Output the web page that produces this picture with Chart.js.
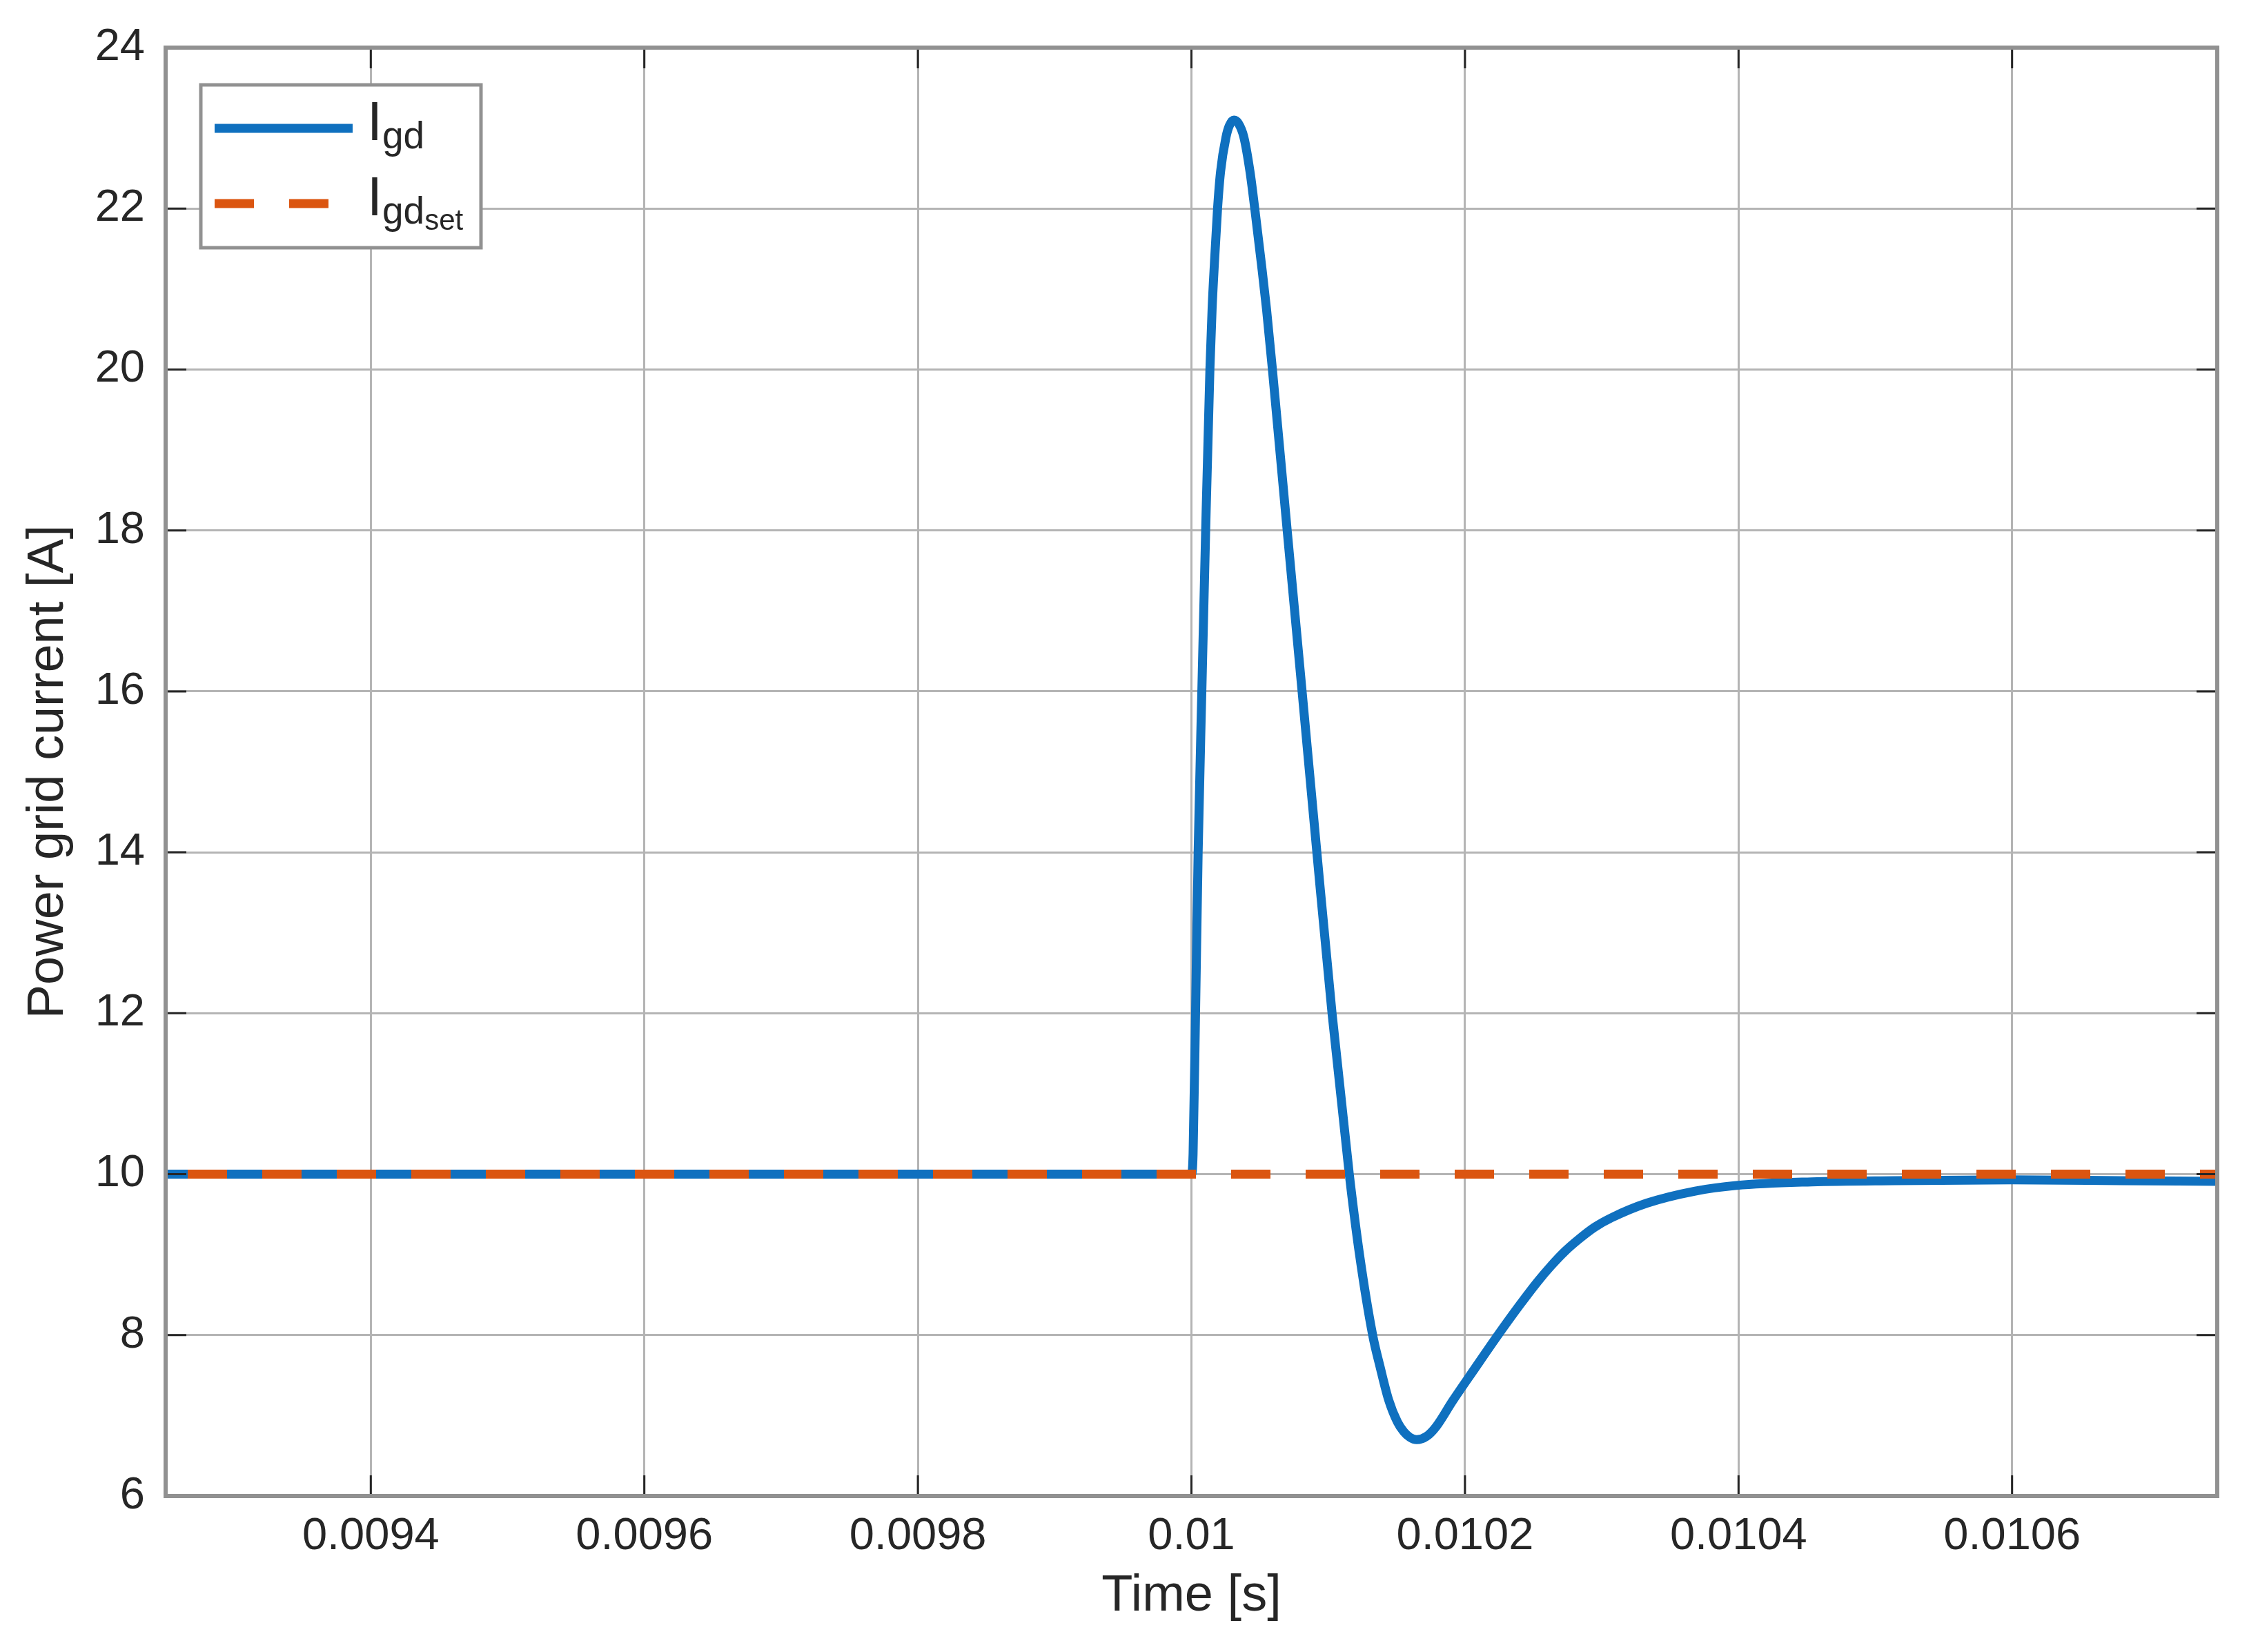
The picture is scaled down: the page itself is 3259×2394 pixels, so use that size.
<!DOCTYPE html>
<html lang="en">
<head>
  <meta charset="UTF-8" />
  <title>Power grid current</title>
  <script src="https://cdn.jsdelivr.net/npm/chart.js"></script>
  <style>
    html, body {
      margin: 0;
      padding: 0;
      background: #ffffff;
    }
    canvas {
      display: block;
    }
  </style>
</head>
<body>
  <canvas id="gridChart" width="3259" height="2394"></canvas>

  <script>
    // Igd (time in s, current in A)
    const timeIgd = [
      0.00925, 0.0100000, 0.0100012, 0.0100030, 0.0100049, 0.0100076, 0.0100104,
      0.0100135, 0.0100151, 0.0100168, 0.0100191, 0.0100213, 0.0100253, 0.0100277,
      0.0100311, 0.0100343, 0.0100383, 0.0100428, 0.0100463, 0.0100511, 0.0100549,
      0.0100592, 0.0100700, 0.0100809, 0.0100917, 0.0101028, 0.0101154, 0.0101229,
      0.0101325, 0.0101380, 0.0101441, 0.0101506, 0.0101552, 0.0101597, 0.0101647,
      0.0101718, 0.0101788, 0.0101909, 0.0102070, 0.0102241, 0.0102403, 0.0102529,
      0.0102629, 0.0102730, 0.0102831, 0.0102947, 0.0103073, 0.0103330, 0.0103683,
      0.0103985, 0.0104534, 0.0105139, 0.0106000, 0.0106800, 0.0107500
    ];
    const igd = [
      10, 10, 10.25, 12, 14, 16, 18,
      20, 20.75, 21.32, 22, 22.46, 22.89, 23.03,
      23.10, 23.06, 22.89, 22.46, 22, 21.32, 20.75,
      20, 18, 16, 14, 12, 10, 9,
      8, 7.6, 7.2, 6.92, 6.80, 6.73, 6.70,
      6.74, 6.86, 7.18, 7.58, 8.00, 8.38, 8.66,
      8.86, 9.04, 9.19, 9.34, 9.46, 9.64, 9.79,
      9.86, 9.905, 9.92, 9.93, 9.92, 9.91
    ];

    // Igd setpoint
    const timeSet = [0.00925, 0.01075];
    const igdSet = [10, 10];

    const xTicks = [0.0094, 0.0096, 0.0098, 0.01, 0.0102, 0.0104, 0.0106];
    const xTickLabels = ['0.0094', '0.0096', '0.0098', '0.01', '0.0102', '0.0104', '0.0106'];
    const yTicks = [6, 8, 10, 12, 14, 16, 18, 20, 22, 24];

    const legendMain = ['I', 'I'];
    const legendSub = ['gd', 'gd'];
    const legendSubSub = ['', 'set'];

    const FONT = "'Liberation Sans', Arial, sans-serif";
    const TEXT = '#262626';

    // axes box, inward ticks and the legend with subscripts
    const matlabFrame = {
      id: 'matlabFrame',
      afterDraw(chart) {
        const { ctx, chartArea: a, scales: { x, y } } = chart;
        ctx.save();

        ctx.strokeStyle = TEXT;
        ctx.lineWidth = 3;
        ctx.beginPath();
        x.ticks.forEach(t => {
          const px = x.getPixelForValue(t.value);
          ctx.moveTo(px, a.bottom); ctx.lineTo(px, a.bottom - 30);
          ctx.moveTo(px, a.top); ctx.lineTo(px, a.top + 30);
        });
        y.ticks.forEach(t => {
          const py = y.getPixelForValue(t.value);
          ctx.moveTo(a.left, py); ctx.lineTo(a.left + 30, py);
          ctx.moveTo(a.right, py); ctx.lineTo(a.right - 30, py);
        });
        ctx.stroke();

        ctx.strokeStyle = '#919191';
        ctx.lineWidth = 6;
        ctx.strokeRect(a.left, a.top, a.right - a.left, a.bottom - a.top);

        // legend
        const lx = a.left + 51, ly = a.top + 54, lw = 406, lh = 236;
        ctx.fillStyle = '#ffffff';
        ctx.fillRect(lx, ly, lw, lh);
        ctx.lineWidth = 5;
        ctx.strokeRect(lx, ly, lw, lh);

        chart.data.datasets.forEach((ds, i) => {
          const rowY = ly + 63 + i * 109;
          ctx.strokeStyle = ds.borderColor;
          ctx.lineWidth = ds.borderWidth;
          ctx.lineCap = 'butt';
          ctx.setLineDash(ds.borderDash || []);
          ctx.lineDashOffset = 0;
          ctx.beginPath();
          ctx.moveTo(lx + 20, rowY);
          ctx.lineTo(lx + 220, rowY);
          ctx.stroke();
          ctx.setLineDash([]);

          ctx.fillStyle = TEXT;
          ctx.textAlign = 'left';
          ctx.textBaseline = 'alphabetic';
          const base = rowY + 17;
          let tx = lx + 241;
          ctx.font = '79px ' + FONT;
          ctx.fillText(legendMain[i], tx, base);
          tx += ctx.measureText(legendMain[i]).width;
          ctx.font = '55px ' + FONT;
          ctx.fillText(legendSub[i], tx, base + 12);
          tx += ctx.measureText(legendSub[i]).width;
          if (legendSubSub[i]) {
            ctx.font = '42px ' + FONT;
            ctx.fillText(legendSubSub[i], tx, base + 21);
          }
        });

        ctx.restore();
      }
    };

    const ctx = document.getElementById('gridChart').getContext('2d');

    const chart = new Chart(ctx, {
      type: 'line',
      data: {
        datasets: [
          {
            label: 'Igd',
            data: timeIgd.map((t, i) => ({ x: t, y: igd[i] })),
            borderColor: '#0f70bf',
            borderWidth: 13,
            pointRadius: 0,
            cubicInterpolationMode: 'monotone',
            order: 1
          },
          {
            label: 'Igd_set',
            data: timeSet.map((t, i) => ({ x: t, y: igdSet[i] })),
            borderColor: '#db5510',
            borderWidth: 13,
            borderDash: [57, 51],
            borderDashOffset: 76,
            borderCapStyle: 'butt',
            pointRadius: 0,
            order: 0
          }
        ]
      },
      options: {
        responsive: false,
        devicePixelRatio: 1,
        animation: false,
        layout: {
          padding: { top: 69, right: 46, left: 0, bottom: 0 }
        },
        plugins: {
          legend: { display: false },
          tooltip: { enabled: false }
        },
        scales: {
          x: {
            type: 'linear',
            min: 0.00925,
            max: 0.01075,
            afterBuildTicks: s => { s.ticks = xTicks.map(v => ({ value: v })); },
            afterFit: s => { s.height = 226; },
            grid: { color: '#b4b4b4', lineWidth: 3, drawTicks: false },
            border: { display: false },
            ticks: {
              padding: 20,
              color: TEXT,
              maxRotation: 0,
              font: { family: FONT, size: 65, lineHeight: 1.2 },
              callback: (value, index) => xTickLabels[index]
            },
            title: {
              display: true,
              text: 'Time [s]',
              color: TEXT,
              font: { family: FONT, size: 74, lineHeight: 1.2 },
              padding: { top: 0, bottom: 36 }
            }
          },
          y: {
            min: 6,
            max: 24,
            afterBuildTicks: s => { s.ticks = yTicks.map(v => ({ value: v })); },
            afterFit: s => { s.width = 240; },
            grid: { color: '#b4b4b4', lineWidth: 3, drawTicks: false },
            border: { display: false },
            ticks: {
              padding: 30,
              color: TEXT,
              font: { family: FONT, size: 65, lineHeight: 1.2 },
              callback: (value, index) => String(yTicks[index])
            },
            title: {
              display: true,
              text: 'Power grid current [A]',
              color: TEXT,
              font: { family: FONT, size: 74, lineHeight: 1.2 },
              padding: { top: 26, bottom: 0 }
            }
          }
        }
      },
      plugins: [matlabFrame]
    });
  </script>
</body>
</html>
